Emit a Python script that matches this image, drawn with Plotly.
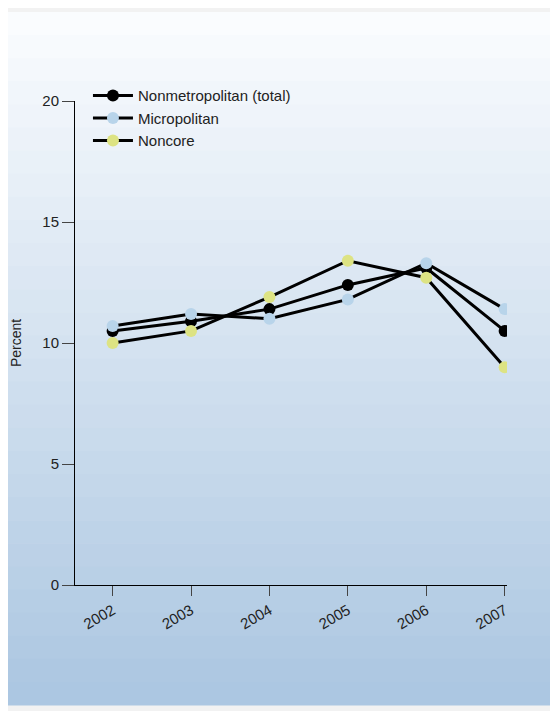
import plotly.graph_objects as go

years = [2002, 2003, 2004, 2005, 2006, 2007]
nonmetro = [10.5, 10.9, 11.4, 12.4, 13.1, 10.5]
micro = [10.7, 11.2, 11.0, 11.8, 13.3, 11.4]
noncore = [10.0, 10.5, 11.9, 13.4, 12.7, 9.0]
names = ["Nonmetropolitan (total)", "Micropolitan", "Noncore"]
colors = ["#000000", "#b8d4ea", "#dde383"]

fig = go.Figure()
for n, v, c in zip(names, [nonmetro, micro, noncore], colors):
    fig.add_trace(go.Scatter(x=years, y=v, name=n, mode="lines+markers",
                             line=dict(color="black", width=3),
                             marker=dict(color=c, size=12)))

shapes = []
N = 30
x0, x1, y0, y1 = 8, 556, 12, 705
for i in range(N):
    t = i / (N - 1)
    r = int(250 + (172 - 250) * t); g = int(252 + (199 - 252) * t); b = int(254 + (226 - 254) * t)
    shapes.append(dict(type="rect", xref="paper", yref="paper", layer="below", line_width=0,
                       x0=(x0 - 75) / 432, x1=(x1 - 75) / 432,
                       y0=(585 - (y0 + (y1 - y0) * (i + 1) / N)) / 484 - 0.001,
                       y1=(585 - (y0 + (y1 - y0) * i / N)) / 484,
                       fillcolor=f"rgb({r},{g},{b})"))

fig.update_layout(
    width=558, height=711, margin=dict(l=67, r=59, t=93, b=134),
    paper_bgcolor="#f2f2f2", plot_bgcolor="rgba(0,0,0,0)",
    font=dict(family="Liberation Sans, Arial", size=15, color="#222"),
    shapes=shapes,
    legend=dict(x=0.03, y=1.045, xanchor="left", yanchor="top", bgcolor="rgba(0,0,0,0)",
                font=dict(size=15), tracegroupgap=0, itemwidth=40),
    xaxis=dict(range=[2001.52, 2007.03], tickvals=years, ticktext=[str(y) for y in years],
               tickangle=-30, showline=True, linecolor="black", ticks="outside", ticklen=10,
               showgrid=False, zeroline=False, automargin=False),
    yaxis=dict(range=[0, 20], tickvals=[0, 5, 10, 15, 20], showline=True, linecolor="black",
               ticks="outside", ticklen=12, showgrid=False, zeroline=False, automargin=False,
               title=dict(text="Percent", standoff=22, font=dict(size=14))),
)
fig.write_html("out.html")
